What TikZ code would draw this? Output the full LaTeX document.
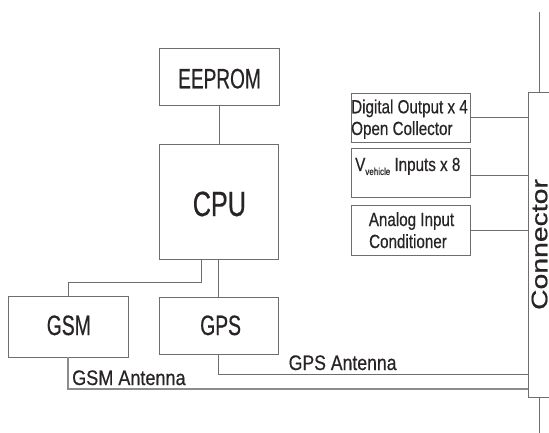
\documentclass[tikz,border=0pt]{standalone}
\usepackage{fontspec}
\setmainfont[FakeBold=0.6]{Liberation Sans}
\usepackage{graphicx}
\definecolor{ln}{RGB}{110,110,110}
\definecolor{ln2}{RGB}{140,140,140}
\definecolor{tx}{RGB}{40,36,36}
\newcommand{\fsz}[1]{\fontsize{#1}{#1}\selectfont}
\newcommand{\sx}[2]{\scalebox{#1}[1]{#2}}
\begin{document}
\begin{tikzpicture}[x=1pt,y=-1pt,
  blk/.style={draw=ln, line width=0.9pt, inner sep=0pt, rectangle},
  wire/.style={draw=ln, line width=0.9pt},
  lbl/.style={inner sep=0pt, text=tx}]
\useasboundingbox (0,0) rectangle (549,433);
% boxes
\node[blk, minimum width=120pt, minimum height=57pt] (eeprom) at (219,76.5) {};
\node[blk, minimum width=119pt, minimum height=115pt] (cpu) at (218.5,201.5) {};
\node[blk, minimum width=120pt, minimum height=61pt] (gsm) at (68,326.5) {};
\node[blk, minimum width=119pt, minimum height=57pt] (gps) at (218.5,325.5) {};
\node[blk, minimum width=119pt, minimum height=49pt] (dig) at (410.5,117.5) {};
\node[blk, minimum width=119pt, minimum height=49pt] (vveh) at (410.5,172.5) {};
\node[blk, minimum width=119pt, minimum height=50pt] (ana) at (410.5,230) {};
\node[blk, minimum width=24pt, minimum height=305pt, anchor=north west] (conn) at (528,92) {};
% texts
\node[lbl, anchor=base] (teeprom) at (219.5,88.3) {\fsz{28}\sx{0.68}{EEPROM}};
\node[lbl, anchor=base] (tcpu) at (219.4,216) {\fsz{35}\sx{0.72}{CPU}};
\node[lbl, anchor=base] (tgsm) at (68.8,335) {\fsz{28}\sx{0.69}{GSM}};
\node[lbl, anchor=base] (tgps) at (220.6,335) {\fsz{28}\sx{0.69}{GPS}};
\node[lbl, anchor=base west] (tdig1) at (351,113.3) {\fsz{19}\sx{0.8}{Digital Output x 4}};
\node[lbl, anchor=base west] (tdig2) at (351,135) {\fsz{19}\sx{0.8}{Open Collector}};
\node[lbl, anchor=base west] (tveh) at (355,171) {\fsz{19}\sx{0.8}{V\raisebox{-4pt}{\fsz{10}vehicle} Inputs x 8}};
\node[lbl, anchor=base] (tana1) at (411.5,226) {\fsz{19}\sx{0.8}{Analog Input}};
\node[lbl, anchor=base] (tana2) at (408,248) {\fsz{19}\sx{0.8}{Conditioner}};
\node[lbl, rotate=90] (tconn) at (539.5,244.5) {\fsz{22.5}\sx{1.26}{Connector}};
\node[lbl, anchor=base west] (tgpsant) at (288.5,370) {\fsz{21}\sx{0.84}{GPS Antenna}};
\node[lbl, anchor=base west] (tgsmant) at (72,385) {\fsz{21}\sx{0.86}{GSM Antenna}};
% wires
\draw[wire] (eeprom.south) -- (eeprom.south |- cpu.north);
\draw[wire] ([xshift=43pt]cpu.south west) -- ++(0,23) -| (gsm.north);
\draw[wire] (cpu.south) -- (cpu.south |- gps.north);
\draw[wire] (gps.south) |- ([yshift=23pt]conn.south west);
\draw[wire, draw=ln2, line width=1.2pt] (gsm.south) |- ([yshift=9pt]conn.south west);
\draw[wire] (dig.east) -- (dig.east -| conn.west);
\draw[wire] ([yshift=-2.5pt]vveh.east) -- ([yshift=-2.5pt]vveh.east -| conn.west);
\draw[wire] (ana.east) -- (ana.east -| conn.west);
\coordinate (ctop) at (539,12);
\coordinate (cbot) at (539,433);
\draw[wire] (ctop) -- (ctop |- conn.north);
\draw[wire] (cbot |- conn.south) -- (cbot);
\end{tikzpicture}
\end{document}
